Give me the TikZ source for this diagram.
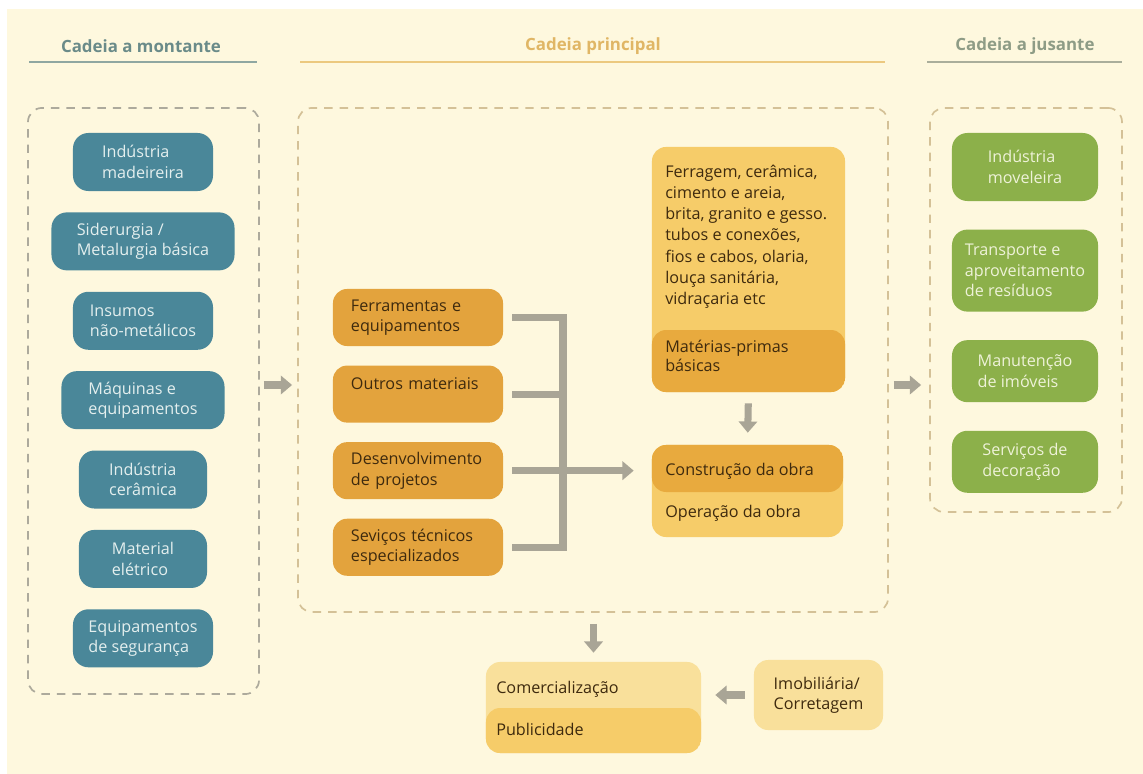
\documentclass[tikz,border=0pt]{standalone}
\usepackage{fontspec}
\setmainfont{Open Sans}
\usetikzlibrary{positioning,arrows.meta}

\definecolor{paper}{HTML}{FEF8DE}
\definecolor{montC}{HTML}{4A8799}
\definecolor{montT}{HTML}{E4EFEE}
\definecolor{montH}{HTML}{6A8B89}
\definecolor{montL}{HTML}{8FA7A1}
\definecolor{princC}{HTML}{E3A33D}
\definecolor{princT}{HTML}{3E2A0E}
\definecolor{princH}{HTML}{E0B665}
\definecolor{princL}{HTML}{ECC97F}
\definecolor{lightO}{HTML}{F6CC69}
\definecolor{paleO}{HTML}{F9E09B}
\definecolor{darkO}{HTML}{E8AA3E}
\definecolor{jusC}{HTML}{8CB04A}
\definecolor{jusT}{HTML}{EEF2D8}
\definecolor{jusH}{HTML}{8E9C86}
\definecolor{jusL}{HTML}{AAAE9B}
\definecolor{dashG}{HTML}{ADAA9C}
\definecolor{dashO}{HTML}{D4C197}
\definecolor{arrG}{HTML}{A9A596}

\begin{document}
\begin{tikzpicture}[x=0.025cm,y=-0.025cm,
  node distance=0.52cm,
  lbl/.style={font=\fontsize{12}{14}\selectfont\bfseries},
  frame/.style={rectangle,rounded corners=10pt,draw,line width=1.2pt,dash pattern=on 6pt off 5pt},
  mbox/.style={rectangle,rounded corners=11pt,fill=montC,text=montT,align=left,minimum height=1.45cm,inner sep=2pt,font=\fontsize{11.5}{14.5}\selectfont},
  pbox/.style={rectangle,rounded corners=10pt,fill=princC,text=princT,text width=3.35cm,align=left,minimum width=4.25cm,minimum height=1.425cm,font=\fontsize{11.5}{14.5}\selectfont},
  jbox/.style={rectangle,rounded corners=11pt,fill=jusC,text=jusT,align=left,minimum width=3.65cm,minimum height=1.55cm,inner sep=2pt,font=\fontsize{11.5}{14.5}\selectfont},
  obox/.style={rectangle,rounded corners=10pt,inner sep=0pt},
  otxt/.style={inner sep=0pt,text=princT,align=left,font=\fontsize{11.5}{15}\selectfont},
  blk/.style={draw=arrG,line width=5pt,-{Triangle[length=8pt,width=13pt]}},
  bar/.style={draw=arrG,line width=5pt}]
\useasboundingbox (0,0) rectangle (1143,774);
\fill[white] (0,0) rectangle (1143,774);
\fill[paper] (7,9) rectangle (1143,774);

% headings
\node[lbl,text=montH] (hmont) at (141,46) {Cadeia a montante};
\node[lbl,text=princH] (hprinc) at (593,46) {Cadeia principal};
\node[lbl,text=jusH] (hjus) at (1025,46) {Cadeia a jusante};
\draw[montL,line width=2pt] (29,62) -- (257,62);
\draw[princL,line width=2pt] (300,62) -- (885,62);
\draw[jusL,line width=2pt] (927,62) -- (1122,62);

% dashed groups
\node[frame,draw=dashG,minimum width=5.775cm,minimum height=14.65cm] (mont) at (143.5,401) {};
\node[frame,draw=dashO,minimum width=14.75cm,minimum height=12.6cm] (prin) at (593,360) {};
\node[frame,draw=dashO,minimum width=4.8cm,minimum height=10.1cm] (jus) at (1026,310) {};

% upstream
\node[mbox,minimum width=3.5cm] (madei) at (143,162) {Indústria\\madeireira};
\node[mbox,minimum width=4.575cm,below=of madei] (sider) {Siderurgia /\\Metalurgia básica};
\node[mbox,minimum width=3.5cm,below=of sider] (insum) {Insumos\\não-metálicos};
\node[mbox,minimum width=4.075cm,below=of insum] (maqui) {Máquinas e\\equipamentos};
\node[mbox,minimum width=3.2cm,below=of maqui] (ceram) {Indústria\\cerâmica};
\node[mbox,minimum width=3.2cm,below=of ceram] (elet) {Material\\elétrico};
\node[mbox,minimum width=3.5cm,below=of elet] (segur) {Equipamentos\\de segurança};

% main chain
\node[pbox] (ferr) at (418,317.5) {Ferramentas e\\equipamentos};
\node[pbox,below=0.475cm of ferr] (outr) {Outros materiais\\~};
\node[pbox,below=0.475cm of outr] (dese) {Desenvolvimento\\de projetos};
\node[pbox,below=0.475cm of dese] (serv) {Seviços técnicos\\especializados};

\node[obox,fill=lightO,minimum width=4.825cm,minimum height=6.125cm,
  path picture={\fill[darkO] ([yshift=1.55cm]path picture bounding box.south west) rectangle (path picture bounding box.south east);}] (mat) at (748.5,269.5) {};
\node[otxt,anchor=north west] (matTop) at (665,165) {Ferragem, cerâmica,\\cimento e areia,\\brita, granito e gesso.\\tubos e conexões,\\fios e cabos, olaria,\\louça sanitária,\\vidraçaria etc};
\node[otxt,anchor=north west,font=\fontsize{11.5}{13.5}\selectfont] (matBot) at (665,340) {Matérias-primas\\básicas};

\node[obox,fill=lightO,minimum width=4.775cm,minimum height=2.3cm,
  path picture={\fill[darkO] ([yshift=-1.175cm]path picture bounding box.north west) rectangle (path picture bounding box.north east);}] (cons) at (747.5,491) {};
\node[otxt,anchor=west] (consT) at (665,471) {Construção da obra};
\node[otxt,anchor=west] (operT) at (665,513) {Operação da obra};

% downstream
\node[jbox,minimum height=1.7cm] (movel) at (1025,167) {Indústria\\moveleira};
\node[jbox,minimum height=2.05cm,below=0.7cm of movel] (transp) {Transporte e\\aproveitamento\\de resíduos};
\node[jbox,below=0.7cm of transp] (manut) {Manutenção\\de imóveis};
\node[jbox,below=0.7cm of manut] (decor) {Serviços de\\decoração};

% sales
\node[obox,fill=paleO,minimum width=5.375cm,minimum height=2.275cm,
  path picture={\fill[lightO] ([yshift=-1.15cm]path picture bounding box.north west) rectangle (path picture bounding box.south east);}] (come) at (593.5,707.5) {};
\node[otxt,anchor=west] (comeT) at (496,689) {Comercialização};
\node[otxt,anchor=west] (publT) at (496,729) {Publicidade};
\node[obox,fill=paleO,minimum width=3.225cm,minimum height=1.75cm,text=princT,align=left,font=\fontsize{11.5}{14.5}\selectfont] (imob) at (818.5,695) {Imobiliária/\\Corretagem};

% connectors
\coordinate (yarr) at (0,385);
\coordinate (brX) at (563,0);
\draw[blk,shorten <=0.1cm,shorten >=0.125cm] (mont.east |- yarr) -- (prin.west |- yarr);
\draw[blk,shorten <=0.125cm,shorten >=0.2cm] (prin.east |- yarr) -- (jus.west |- yarr);
\draw[bar] ([xshift=0.225cm]ferr.east) -- (ferr.east -| brX) -- (serv.east -| brX) -- ([xshift=0.225cm]serv.east);
\draw[bar] ([xshift=0.225cm]outr.east) -- (outr.east -| brX);
\draw[bar] ([xshift=0.225cm]dese.east) -- (dese.east -| brX);
\draw[blk,shorten >=0.45cm] (dese.east -| brX) -- (dese.east -| cons.west);
\draw[blk,shorten <=0.275cm,shorten >=0.3cm] (mat.south) -- (cons.north);
\draw[blk,shorten <=0.275cm,shorten >=0.225cm] (come.north |- prin.south) -- (come.north);
\draw[blk,shorten <=0.225cm,shorten >=0.35cm] (imob.west) -- (come.east |- imob.west);
\end{tikzpicture}
\end{document}
